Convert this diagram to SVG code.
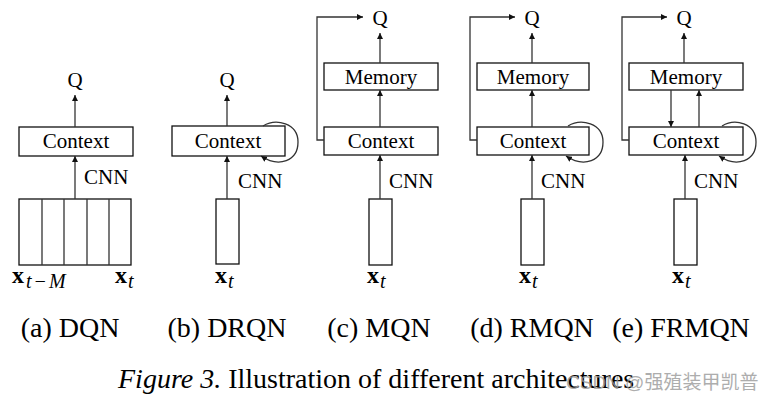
<svg xmlns="http://www.w3.org/2000/svg" width="769" height="400" viewBox="0 0 769 400">
<defs>
<marker id="ah" viewBox="0 0 10 10" refX="10" refY="5" markerWidth="6" markerHeight="6" markerUnits="userSpaceOnUse" orient="auto"><path d="M0,0 L10,5 L0,10 z" fill="#111"/></marker>
<style>
.box{fill:#fff;stroke:#111;stroke-width:1.3}
.ln{fill:none;stroke:#333;stroke-width:1.3}
.ar{fill:none;stroke:#333;stroke-width:1.3;marker-end:url(#ah)}
.lbl{font-family:"Liberation Serif",serif;font-size:21px;fill:#000;text-anchor:middle}
.cnn{font-family:"Liberation Serif",serif;font-size:21px;fill:#000}
.xb{font-family:"Liberation Serif",serif;font-size:24px;font-weight:bold;fill:#000}
.sub{font-family:"Liberation Serif",serif;font-size:20px;font-style:italic;font-weight:normal;fill:#000}
.cap{font-family:"Liberation Serif",serif;font-size:28px;fill:#000;text-anchor:middle}
.fig{font-family:"Liberation Serif",serif;font-size:28px;fill:#000}
.wm{font-family:"Liberation Sans","Noto Sans CJK SC",sans-serif;font-size:19px;fill:#999;opacity:0.8}
</style>
</defs>

<!-- (a) DQN -->
<g id="a-stack">
<rect class="box" x="19" y="199" width="112" height="66"/>
<path class="ln" d="M42,199V265M64,199V265M87,199V265M109,199V265"/>
<text class="xb" x="12" y="283">x<tspan class="sub" dx="2" dy="5">t</tspan><tspan class="sub" dx="2">−</tspan><tspan class="sub" dx="2">M</tspan></text>
<text class="xb" x="115" y="283">x<tspan class="sub" dx="1" dy="5">t</tspan></text>
</g>
<g id="a-context"><rect class="box" x="19" y="127" width="114" height="29"/><text class="lbl" x="76" y="148">Context</text></g>
<g id="a-q"><text class="lbl" x="75" y="87">Q</text></g>
<text class="cnn" x="84" y="184">CNN</text>

<!-- (b) DRQN -->
<g id="b-input"><rect class="box" x="216" y="199" width="23" height="65"/>
<text class="xb" x="215" y="283">x<tspan class="sub" dx="1" dy="5">t</tspan></text></g>
<g id="b-context"><rect class="box" x="172" y="126" width="113" height="30"/><text class="lbl" x="228" y="148">Context</text></g>
<g id="b-q"><text class="lbl" x="227" y="87">Q</text></g>
<text class="cnn" x="238" y="188">CNN</text>

<!-- (c) MQN -->
<g id="c-input"><rect class="box" x="369" y="199" width="23" height="66"/>
<text class="xb" x="367" y="283">x<tspan class="sub" dx="1" dy="5">t</tspan></text></g>
<g id="c-context"><rect class="box" x="324" y="127" width="114" height="28"/><text class="lbl" x="381" y="148">Context</text></g>
<g id="c-memory"><rect class="box" x="324" y="63" width="114" height="27"/><text class="lbl" x="381" y="84">Memory</text></g>
<g id="c-q"><text class="lbl" x="380" y="25">Q</text></g>
<text class="cnn" x="389" y="188">CNN</text>

<!-- (d) RMQN -->
<g id="d-input"><rect class="box" x="521" y="199" width="23" height="66"/>
<text class="xb" x="519" y="283">x<tspan class="sub" dx="1" dy="5">t</tspan></text></g>
<g id="d-context"><rect class="box" x="477" y="127" width="112" height="28"/><text class="lbl" x="533" y="148">Context</text></g>
<g id="d-memory"><rect class="box" x="477" y="63" width="112" height="27"/><text class="lbl" x="533" y="84">Memory</text></g>
<g id="d-q"><text class="lbl" x="532" y="25">Q</text></g>
<text class="cnn" x="541" y="188">CNN</text>

<!-- (e) FRMQN -->
<g id="e-input"><rect class="box" x="674" y="199" width="23" height="66"/>
<text class="xb" x="672" y="283">x<tspan class="sub" dx="1" dy="5">t</tspan></text></g>
<g id="e-context"><rect class="box" x="629" y="127" width="114" height="28"/><text class="lbl" x="686" y="148">Context</text></g>
<g id="e-memory"><rect class="box" x="629" y="63" width="114" height="27"/><text class="lbl" x="686" y="84">Memory</text></g>
<g id="e-q"><text class="lbl" x="684" y="25">Q</text></g>
<text class="cnn" x="694" y="188">CNN</text>

<g id="connectors">
<path class="ar" d="M75,199V156"/>
<path class="ar" d="M75,127V95"/>
<path class="ar" d="M227,199V156"/>
<path class="ar" d="M227,126V95"/>
<path class="ar" d="M263,126C276,118 298,123 298,142C298,161 279,168 261,156"/>
<path class="ar" d="M380,199V155"/>
<path class="ar" d="M380,127V90"/>
<path class="ar" d="M380,63V33"/>
<path class="ar" d="M324,140H317V17H363"/>
<path class="ar" d="M532,199V155"/>
<path class="ar" d="M532,127V90"/>
<path class="ar" d="M532,63V33"/>
<path class="ar" d="M477,140H470V17H515"/>
<path class="ar" d="M568,126C581,118 603,123 603,142C603,161 584,168 566,156"/>
<path class="ar" d="M685,199V155"/>
<path class="ar" d="M671,90V127"/>
<path class="ar" d="M699,127V90"/>
<path class="ar" d="M684,63V33"/>
<path class="ar" d="M629,140H622V17H667"/>
<path class="ar" d="M722,126C735,118 756,123 756,142C756,161 737,168 719,156"/>
</g>

<text class="cap" x="70" y="337">(a) DQN</text>
<text class="cap" x="227" y="337">(b) DRQN</text>
<text class="cap" x="379" y="337">(c) MQN</text>
<text class="cap" x="532" y="337">(d) RMQN</text>
<text class="cap" x="681" y="337">(e) FRMQN</text>
<text class="fig" x="118" y="388"><tspan font-style="italic">Figure 3.</tspan> Illustration of different architectures</text>
<text class="wm" x="566" y="389">CSDN @强殖装甲凯普</text>
</svg>
